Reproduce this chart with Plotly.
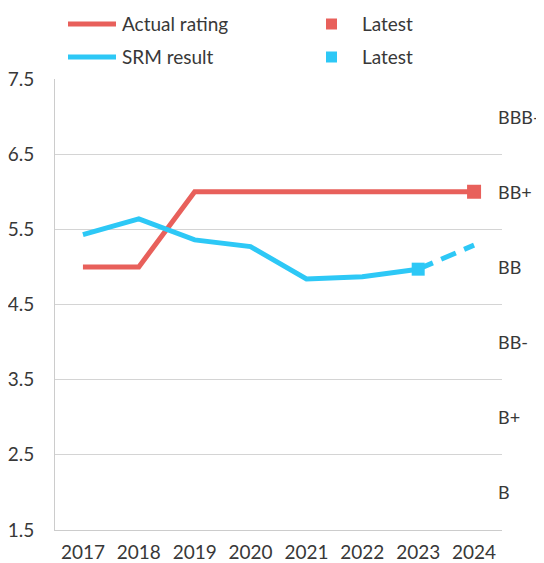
import plotly.graph_objects as go

years = ["2017", "2018", "2019", "2020", "2021", "2022", "2023", "2024"]
actual_rating = [5, 5, 6, 6, 6, 6, 6, 6]
srm_result = [5.43, 5.64, 5.36, 5.27, 4.84, 4.87, 4.97, 5.29]
rating_labels = ["BBB-", "BB+", "BB", "BB-", "B+", "B"]
rating_levels = [7, 6, 5, 4, 3, 2]
y_ticks = [1.5, 2.5, 3.5, 4.5, 5.5, 6.5, 7.5]

RED = "#E8605B"
BLUE = "#2DC8F6"
TXT = "#383838"
FONT = "Lato"

OFF = 8  # page body margin
W, H = 544 - OFF, 563 - OFF
L, R, T, B = 55 - OFF, 544 - 502, 79 - OFF, 563 - 530
PW, PH = W - L - R, H - T - B

def px(x):
    return (x - OFF - L) / PW

def py(y):
    return (H - B - (y - OFF)) / PH

fig = go.Figure()

fig.add_trace(go.Scatter(x=years, y=actual_rating, mode="lines",
                         line=dict(color=RED, width=5), showlegend=False))
fig.add_trace(go.Scatter(x=years[-1:], y=actual_rating[-1:], mode="markers",
                         marker=dict(symbol="square", size=14, color=RED), showlegend=False))
fig.add_trace(go.Scatter(x=years[:-1], y=srm_result[:-1], mode="lines",
                         line=dict(color=BLUE, width=5), showlegend=False))
fig.add_trace(go.Scatter(x=years[-2:], y=srm_result[-2:], mode="lines",
                         line=dict(color=BLUE, width=5, dash="16px,9px"), showlegend=False))
fig.add_trace(go.Scatter(x=years[-2:-1], y=srm_result[-2:-1], mode="markers",
                         marker=dict(symbol="square", size=13, color=BLUE), showlegend=False))

annotations = []
for lab, lev in zip(rating_labels, rating_levels):
    annotations.append(dict(x=1, xref="paper", y=lev, yref="y", text=lab,
                            xanchor="left", yanchor="middle", xshift=-6,
                            showarrow=False, font=dict(family=FONT, size=18, color=TXT)))

shapes = []
legend_items = [
    ("Actual rating", RED, 24),
    ("SRM result", BLUE, 57),
]
for name, col, yy in legend_items:
    shapes.append(dict(type="line", xref="paper", yref="paper",
                       x0=px(68), x1=px(116), y0=py(yy), y1=py(yy),
                       line=dict(color=col, width=5)))
    annotations.append(dict(x=px(120), y=py(yy), xref="paper", yref="paper", text=name,
                            xanchor="left", yanchor="middle", showarrow=False,
                            font=dict(family=FONT, size=19, color=TXT)))
    shapes.append(dict(type="rect", xref="paper", yref="paper",
                       x0=px(326), x1=px(337), y0=py(yy + 5.5), y1=py(yy - 5.5),
                       fillcolor=col, line=dict(width=0)))
    annotations.append(dict(x=px(360), y=py(yy), xref="paper", yref="paper", text="Latest",
                            xanchor="left", yanchor="middle", showarrow=False,
                            font=dict(family=FONT, size=19, color=TXT)))

fig.update_layout(
    width=W, height=H,
    margin=dict(l=L, r=R, t=T, b=B, autoexpand=False),
    paper_bgcolor="white", plot_bgcolor="white",
    font=dict(family=FONT, size=19, color=TXT),
    showlegend=False,
    annotations=annotations,
    shapes=shapes,
    xaxis=dict(type="category", range=[-0.5, 7.5], showgrid=False, automargin=False,
               showline=True, linecolor="#cccccc", linewidth=1,
               ticks="", ticklabelstandoff=5, tickfont=dict(size=19, color=TXT)),
    yaxis=dict(range=[1.5, 7.5], tickvals=y_ticks, ticktext=[f"{v:.1f}" for v in y_ticks],
               showgrid=True, gridcolor="#d4d4d4", gridwidth=1, automargin=False,
               showline=True, linecolor="#cccccc", linewidth=1, zeroline=False,
               ticks="", ticklabelstandoff=16, tickfont=dict(size=19, color=TXT)),
)

fig.write_html("out.html")
